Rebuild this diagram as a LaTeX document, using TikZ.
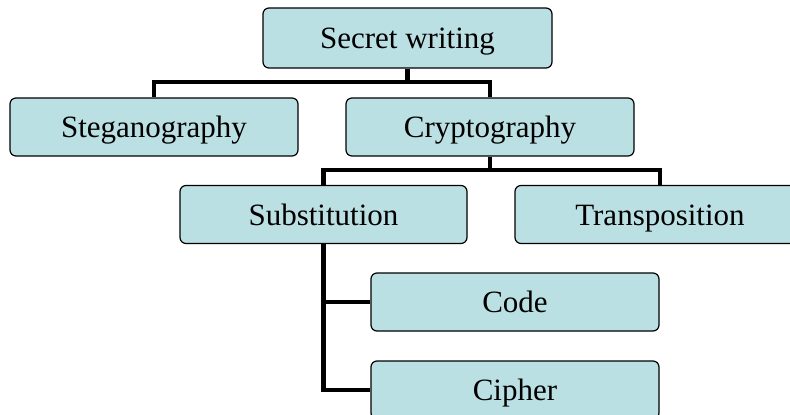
\documentclass[tikz,border=0pt]{standalone}
\usepackage{fontspec}
\setmainfont{Liberation Serif}
\definecolor{boxfill}{HTML}{BBE0E3}
\tikzset{
  tbox/.style={draw=black, line width=1.2pt, fill=boxfill, rounded corners=6pt,
    minimum width=288pt, minimum height=58pt, inner sep=0pt,
    text height=27pt, text depth=6pt,
    font=\fontsize{31}{36}\selectfont},
  conn/.style={draw=black, line width=4.8pt, line join=miter}
}
\begin{document}
\begin{tikzpicture}[x=1pt,y=-1pt]
\useasboundingbox (0,0) rectangle (790,415);
\clip (0,0) rectangle (790,415);
% nodes
\node[tbox, minimum width=289pt, minimum height=60pt] (sw) at (407.5,38) {Secret writing};
\node[tbox] (steg) at (154,127) {Steganography};
\node[tbox] (crypt) at (490,127) {Cryptography};
\node[tbox, minimum width=287pt] (sub) at (323.5,214.5) {Substitution};
\node[tbox, minimum width=290pt] (trans) at (660,214.5) {Transposition};
\node[tbox] (code) at (515,302) {Code};
\node[tbox] (ciph) at (515,390) {Cipher};
% connectors
\coordinate (j1) at (407.5,82);
\coordinate (j2) at (490,170);
\draw[conn] (sw.south) -- (j1);
\draw[conn] (steg.north) |- (j1);
\draw[conn] (crypt.north) |- (j1);
\draw[conn] (crypt.south) -- (j2);
\draw[conn] (sub.north) |- (j2);
\draw[conn] (trans.north) |- (j2);
\draw[conn] (sub.south) |- (code.west);
\draw[conn] (sub.south) |- (ciph.west);
\end{tikzpicture}
\end{document}
